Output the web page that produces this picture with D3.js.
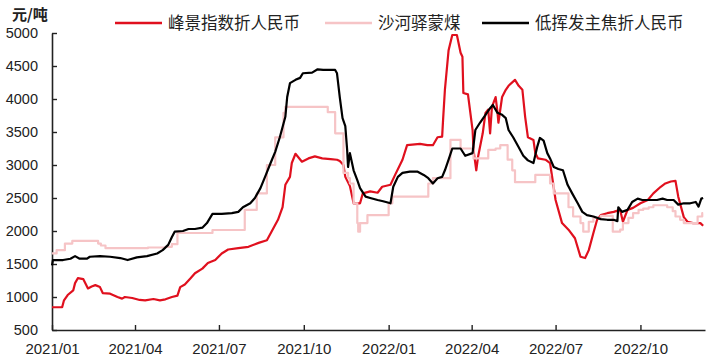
<!DOCTYPE html>
<html>
<head>
<meta charset="utf-8">
<script src="https://cdn.jsdelivr.net/npm/d3@7"></script>
<style>
  body { margin: 0; background: #fff; }
  svg text { font-family: "Liberation Sans", Arial, "Noto Sans CJK SC", sans-serif; fill: #222; }
  .cjk { font-family: "Noto Sans CJK SC", sans-serif; }
</style>
</head>
<body>
<svg id="chart"></svg>
<script>
// series names
const seriesNames = ["峰景指数折人民币", "沙河驿蒙煤", "低挥发主焦折人民币"]
const unitLabel = "元/吨"

// x tick dates and y ticks
const xTickDates = ["2021-01-01", "2021-04-01", "2021-07-01", "2021-10-01", "2022-01-01", "2022-04-01", "2022-07-01", "2022-10-01"]
const yTicks = [500, 1000, 1500, 2000, 2500, 3000, 3500, 4000, 4500, 5000]

// 峰景指数折人民币 (red)
const redData = [
  ["2021-01-01", 845], ["2021-01-12", 845], ["2021-01-14", 950], ["2021-01-18", 1030], ["2021-01-24", 1100],
  ["2021-01-26", 1210], ["2021-01-29", 1285], ["2021-02-04", 1270], ["2021-02-09", 1130], ["2021-02-13", 1160],
  ["2021-02-17", 1180], ["2021-02-22", 1150], ["2021-02-25", 1060], ["2021-03-05", 1050], ["2021-03-13", 1000],
  ["2021-03-18", 975], ["2021-03-21", 1000], ["2021-03-29", 985], ["2021-04-06", 955], ["2021-04-12", 950],
  ["2021-04-21", 970], ["2021-04-28", 950], ["2021-05-04", 965], ["2021-05-11", 1000], ["2021-05-17", 1020],
  ["2021-05-20", 1150], ["2021-05-25", 1190], ["2021-05-31", 1280], ["2021-06-05", 1360], ["2021-06-13", 1430],
  ["2021-06-19", 1515], ["2021-06-27", 1560], ["2021-07-04", 1660], ["2021-07-11", 1720], ["2021-07-22", 1740],
  ["2021-08-02", 1760], ["2021-08-13", 1820], ["2021-08-22", 1860], ["2021-08-28", 2015], ["2021-09-03", 2170],
  ["2021-09-08", 2360], ["2021-09-11", 2700], ["2021-09-16", 2820], ["2021-09-18", 3030], ["2021-09-22", 3170],
  ["2021-09-29", 3050], ["2021-10-06", 3100], ["2021-10-13", 3130], ["2021-10-21", 3100], ["2021-10-30", 3090],
  ["2021-11-06", 3080], ["2021-11-09", 3060], ["2021-11-13", 3000], ["2021-11-15", 2820], ["2021-11-20", 2680],
  ["2021-11-24", 2420], ["2021-12-01", 2420], ["2021-12-04", 2570], ["2021-12-12", 2600], ["2021-12-20", 2580],
  ["2021-12-25", 2670], ["2022-01-03", 2700], ["2022-01-08", 2850], ["2022-01-16", 3080], ["2022-01-21", 3300],
  ["2022-02-04", 3320], ["2022-02-12", 3300], ["2022-02-18", 3300], ["2022-02-23", 3420], ["2022-02-28", 3430],
  ["2022-03-01", 3680], ["2022-03-03", 4140], ["2022-03-07", 4740], ["2022-03-11", 4970], ["2022-03-16", 4970],
  ["2022-03-20", 4700], ["2022-03-22", 4640], ["2022-03-23", 4090], ["2022-03-28", 4070], ["2022-04-02", 3530],
  ["2022-04-03", 3230], ["2022-04-06", 2920], ["2022-04-08", 3130], ["2022-04-13", 3480], ["2022-04-16", 3790],
  ["2022-04-19", 3840], ["2022-04-21", 3480], ["2022-04-23", 3880], ["2022-04-27", 4030], ["2022-04-29", 3800],
  ["2022-04-30", 3640], ["2022-05-04", 4030], ["2022-05-08", 4140], ["2022-05-11", 4200], ["2022-05-18", 4290],
  ["2022-05-22", 4200], ["2022-05-26", 4140], ["2022-05-29", 3730], ["2022-06-01", 3420], ["2022-06-07", 3380],
  ["2022-06-09", 3180], ["2022-06-12", 3100], ["2022-06-20", 3080], ["2022-06-25", 3030], ["2022-07-01", 2470],
  ["2022-07-08", 2120], ["2022-07-15", 2020], ["2022-07-22", 1890], ["2022-07-28", 1610], ["2022-08-02", 1590],
  ["2022-08-06", 1710], ["2022-08-11", 1970], ["2022-08-15", 2170], ["2022-08-19", 2240], ["2022-08-26", 2270],
  ["2022-09-02", 2290], ["2022-09-09", 2320], ["2022-09-12", 2140], ["2022-09-17", 2320], ["2022-09-23", 2350],
  ["2022-10-01", 2420], ["2022-10-09", 2470], ["2022-10-15", 2570], ["2022-10-23", 2670], ["2022-10-28", 2720],
  ["2022-11-03", 2750], ["2022-11-08", 2760], ["2022-11-11", 2520], ["2022-11-17", 2210], ["2022-11-21", 2140],
  ["2022-11-27", 2120], ["2022-12-05", 2120], ["2022-12-08", 2080]
]

// 沙河驿蒙煤 (pink, step like)
const pinkData = [
  ["2021-01-01", 1660], ["2021-01-06", 1710], ["2021-01-15", 1810], ["2021-01-23", 1850], ["2021-02-20", 1810],
  ["2021-02-23", 1780], ["2021-02-28", 1740], ["2021-04-15", 1750], ["2021-05-04", 1760], ["2021-05-11", 1800],
  ["2021-05-17", 1970], ["2021-06-24", 2015], ["2021-07-29", 2320], ["2021-08-11", 2570], ["2021-08-22", 3000],
  ["2021-08-31", 3420], ["2021-09-09", 3790], ["2021-09-11", 3880], ["2021-10-27", 3800], ["2021-11-04", 3480],
  ["2021-11-13", 2880], ["2021-11-18", 2800], ["2021-11-20", 2720], ["2021-11-24", 2420], ["2021-11-28", 2120],
  ["2021-11-29", 1990], ["2021-12-01", 2120], ["2021-12-09", 2240], ["2022-01-01", 2420], ["2022-01-05", 2520],
  ["2022-02-13", 2720], ["2022-02-18", 2800], ["2022-03-09", 3380], ["2022-03-20", 3250], ["2022-04-03", 3100],
  ["2022-04-19", 3230], ["2022-04-27", 3250], ["2022-05-02", 3300], ["2022-05-10", 3080], ["2022-05-15", 2920],
  ["2022-05-18", 2740], ["2022-06-09", 2850], ["2022-06-25", 2720], ["2022-06-29", 2570], ["2022-07-15", 2360],
  ["2022-07-20", 2220], ["2022-07-28", 2120], ["2022-07-31", 1990], ["2022-08-06", 2140], ["2022-08-11", 2200],
  ["2022-08-19", 2230], ["2022-09-01", 1990], ["2022-09-09", 2020], ["2022-09-12", 2120], ["2022-09-18", 2200],
  ["2022-09-23", 2270], ["2022-09-29", 2320], ["2022-10-04", 2340], ["2022-10-10", 2360], ["2022-10-15", 2390],
  ["2022-10-30", 2360], ["2022-11-05", 2300], ["2022-11-08", 2220], ["2022-11-13", 2170], ["2022-11-17", 2120],
  ["2022-12-02", 2220], ["2022-12-07", 2270], ["2022-12-08", 2270]
]

// 低挥发主焦折人民币 (black)
const blackData = [
  ["2021-01-01", 1480], ["2021-01-02", 1560], ["2021-01-13", 1560], ["2021-01-21", 1580], ["2021-01-26", 1620],
  ["2021-01-31", 1580], ["2021-02-08", 1580], ["2021-02-11", 1610], ["2021-02-22", 1620], ["2021-03-05", 1610],
  ["2021-03-16", 1590], ["2021-03-24", 1560], ["2021-04-03", 1600], ["2021-04-14", 1620], ["2021-04-25", 1660],
  ["2021-05-01", 1710], ["2021-05-07", 1790], ["2021-05-11", 1910], ["2021-05-14", 1990], ["2021-05-23", 2000],
  ["2021-05-29", 2030], ["2021-06-05", 2030], ["2021-06-13", 2050], ["2021-06-18", 2120], ["2021-06-24", 2260],
  ["2021-07-04", 2260], ["2021-07-15", 2270], ["2021-07-22", 2290], ["2021-07-27", 2360], ["2021-08-04", 2420],
  ["2021-08-09", 2500], ["2021-08-15", 2650], ["2021-08-20", 2820], ["2021-08-26", 3030], ["2021-08-31", 3200],
  ["2021-09-05", 3420], ["2021-09-11", 3730], ["2021-09-13", 4030], ["2021-09-16", 4240], ["2021-09-22", 4290],
  ["2021-09-27", 4320], ["2021-09-30", 4390], ["2021-10-10", 4400], ["2021-10-16", 4450], ["2021-10-22", 4440],
  ["2021-11-04", 4440], ["2021-11-06", 4390], ["2021-11-09", 4030], ["2021-11-12", 3710], ["2021-11-15", 3590],
  ["2021-11-17", 3230], ["2021-11-18", 2970], ["2021-11-20", 3180], ["2021-11-24", 2920], ["2021-11-28", 2770],
  ["2021-12-01", 2650], ["2021-12-07", 2520], ["2021-12-12", 2500], ["2021-12-20", 2470], ["2021-12-26", 2450],
  ["2022-01-03", 2420], ["2022-01-06", 2670], ["2022-01-11", 2820], ["2022-01-16", 2880], ["2022-01-24", 2900],
  ["2022-02-01", 2900], ["2022-02-08", 2850], ["2022-02-13", 2800], ["2022-02-18", 2720], ["2022-02-23", 2800],
  ["2022-02-28", 2820], ["2022-03-03", 2920], ["2022-03-07", 3080], ["2022-03-11", 3250], ["2022-03-20", 3250],
  ["2022-03-25", 3140], ["2022-04-02", 3180], ["2022-04-05", 3530], ["2022-04-10", 3640], ["2022-04-16", 3760],
  ["2022-04-21", 3860], ["2022-04-24", 3910], ["2022-04-29", 3790], ["2022-05-04", 3760], ["2022-05-08", 3710],
  ["2022-05-11", 3530], ["2022-05-16", 3420], ["2022-05-22", 3270], ["2022-05-27", 3140], ["2022-06-01", 3070],
  ["2022-06-07", 3030], ["2022-06-11", 3270], ["2022-06-14", 3410], ["2022-06-18", 3370], ["2022-06-22", 3180],
  ["2022-06-25", 3100], ["2022-06-29", 2970], ["2022-07-04", 2940], ["2022-07-09", 2920], ["2022-07-14", 2700],
  ["2022-07-19", 2570], ["2022-07-25", 2420], ["2022-07-30", 2290], ["2022-08-04", 2240], ["2022-08-11", 2220],
  ["2022-08-19", 2180], ["2022-08-26", 2170], ["2022-09-02", 2170], ["2022-09-06", 2150], ["2022-09-07", 2360],
  ["2022-09-11", 2290], ["2022-09-17", 2320], ["2022-09-22", 2440], ["2022-09-28", 2490], ["2022-10-03", 2470],
  ["2022-10-19", 2470], ["2022-10-25", 2490], ["2022-10-30", 2470], ["2022-11-06", 2470], ["2022-11-11", 2400],
  ["2022-11-17", 2420], ["2022-11-24", 2420], ["2022-11-30", 2440], ["2022-12-03", 2370], ["2022-12-06", 2490],
  ["2022-12-08", 2500]
]

const colors = ["#e0101e", "#f6c4c6", "#000000"]

// set the dimensions
let width = 708, height = 360
let margin = ({top: 33, right: 3, bottom: 30, left: 52})

let svg = d3.select("#chart")
    .attr("width", width)
    .attr("height", height)

let parse = d3.timeParse("%Y-%m-%d")

let x = d3.scaleTime()
    .domain([parse("2021-01-01"), parse("2022-12-10")])
    .range([margin.left, width - margin.right])

let y = d3.scaleLinear()
    .domain([500, 5000])
    .range([height - margin.bottom, margin.top])

// y axis
let yAxis = svg.append("g")
    .attr("transform", "translate(" + margin.left + ",0)")
    .call(d3.axisLeft(y).tickValues(yTicks).tickFormat(d3.format("d"))
        .tickSize(-5).tickSizeOuter(0).tickPadding(14))
yAxis.select(".domain").attr("stroke", "#222").attr("stroke-width", 1.6)
yAxis.selectAll(".tick line").attr("stroke", "#222").attr("stroke-width", 1.4)
yAxis.selectAll("text").attr("font-size", 14.5).attr("fill", "#222")
    .style("font-family", '"Liberation Sans", Arial, sans-serif')

// x axis
let xAxis = svg.append("g")
    .attr("transform", "translate(0," + (height - margin.bottom) + ")")
    .call(d3.axisBottom(x).tickValues(xTickDates.map(parse)).tickFormat(d3.timeFormat("%Y/%m"))
        .tickSize(-5).tickSizeOuter(0).tickPadding(13))
xAxis.select(".domain").attr("stroke", "#222").attr("stroke-width", 1.6)
xAxis.selectAll(".tick line").attr("stroke", "#222").attr("stroke-width", 1.4)
xAxis.selectAll("text").attr("font-size", 15).attr("fill", "#222")
    .style("font-family", '"Liberation Sans", Arial, sans-serif')

// unit label
svg.append("text")
    .attr("class", "cjk")
    .attr("x", 12)
    .attr("y", 20)
    .attr("font-size", 15)
    .attr("font-weight", "bold")
    .text(unitLabel)

// lines
let line = d3.line()
    .x(d => x(parse(d[0])))
    .y(d => y(d[1]))
let stepLine = d3.line()
    .curve(d3.curveStepAfter)
    .x(d => x(parse(d[0])))
    .y(d => y(d[1]))

let allSeries = [
    {data: redData, gen: line, color: colors[0], w: 2.2},
    {data: pinkData, gen: stepLine, color: colors[1], w: 2.2},
    {data: blackData, gen: line, color: colors[2], w: 2.2}
]
allSeries.forEach(function (s) {
    svg.append("path")
        .datum(s.data)
        .attr("fill", "none")
        .attr("stroke", s.color)
        .attr("stroke-width", s.w)
        .attr("stroke-linejoin", "round")
        .attr("d", s.gen)
})

// legend
let legendX = [115, 325, 482]
let legend = svg.append("g")
seriesNames.forEach(function (name, i) {
    legend.append("line")
        .attr("x1", legendX[i]).attr("x2", legendX[i] + 47)
        .attr("y1", 23).attr("y2", 23)
        .attr("stroke", colors[i])
        .attr("stroke-width", 2.4)
    legend.append("text")
        .attr("class", "cjk")
        .attr("x", legendX[i] + 53)
        .attr("y", 23)
        .attr("dy", "0.36em")
        .attr("font-size", 16.5)
        .attr("fill", "#333")
        .text(name)
})
</script>
</body>
</html>
